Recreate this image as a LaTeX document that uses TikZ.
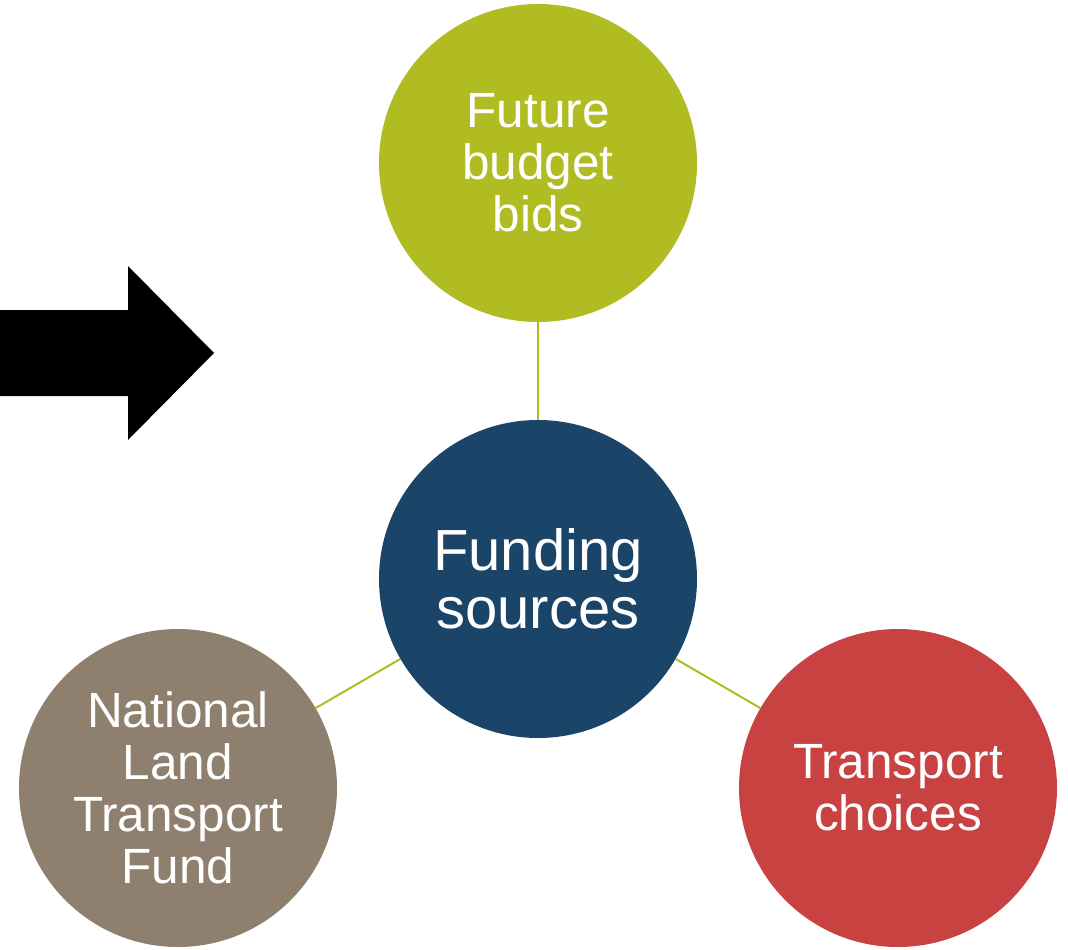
\documentclass[tikz,border=0pt]{standalone}
\usepackage{fontspec}
\setmainfont{Liberation Sans}
\definecolor{cgreen}{HTML}{B0BC22}
\definecolor{cnavy}{HTML}{1B4469}
\definecolor{ctaupe}{HTML}{8F7F6E}
\definecolor{cred}{HTML}{C84242}
\begin{document}
\begin{tikzpicture}[x=1pt,y=-1pt,
  bubble/.style={circle, minimum size=318pt, inner sep=0pt, text=white, align=center,
    font=\fontsize{49.5}{52}\selectfont},
  link/.style={draw=cgreen, line width=2pt}]
\useasboundingbox (0,0) rectangle (1068,950);
\node[bubble, fill=cgreen] (top) at (538,163) {Future\\budget\\bids};
\node[bubble, fill=cnavy, font=\fontsize{58}{58}\selectfont] (mid) at (538,579) {Funding\\sources};
\node[bubble, fill=ctaupe] (left) at (178,788) {National\\Land\\Transport\\Fund};
\node[bubble, fill=cred] (right) at (898,788) {Transport\\choices};
\draw[link] (top) -- (mid);
\draw[link] (left) -- (mid);
\draw[link] (right) -- (mid);
\fill[black] (0,310) -- (128,310) -- (128,266) -- (214,353) -- (128,440) -- (128,396) -- (0,396) -- cycle;
\end{tikzpicture}
\end{document}
